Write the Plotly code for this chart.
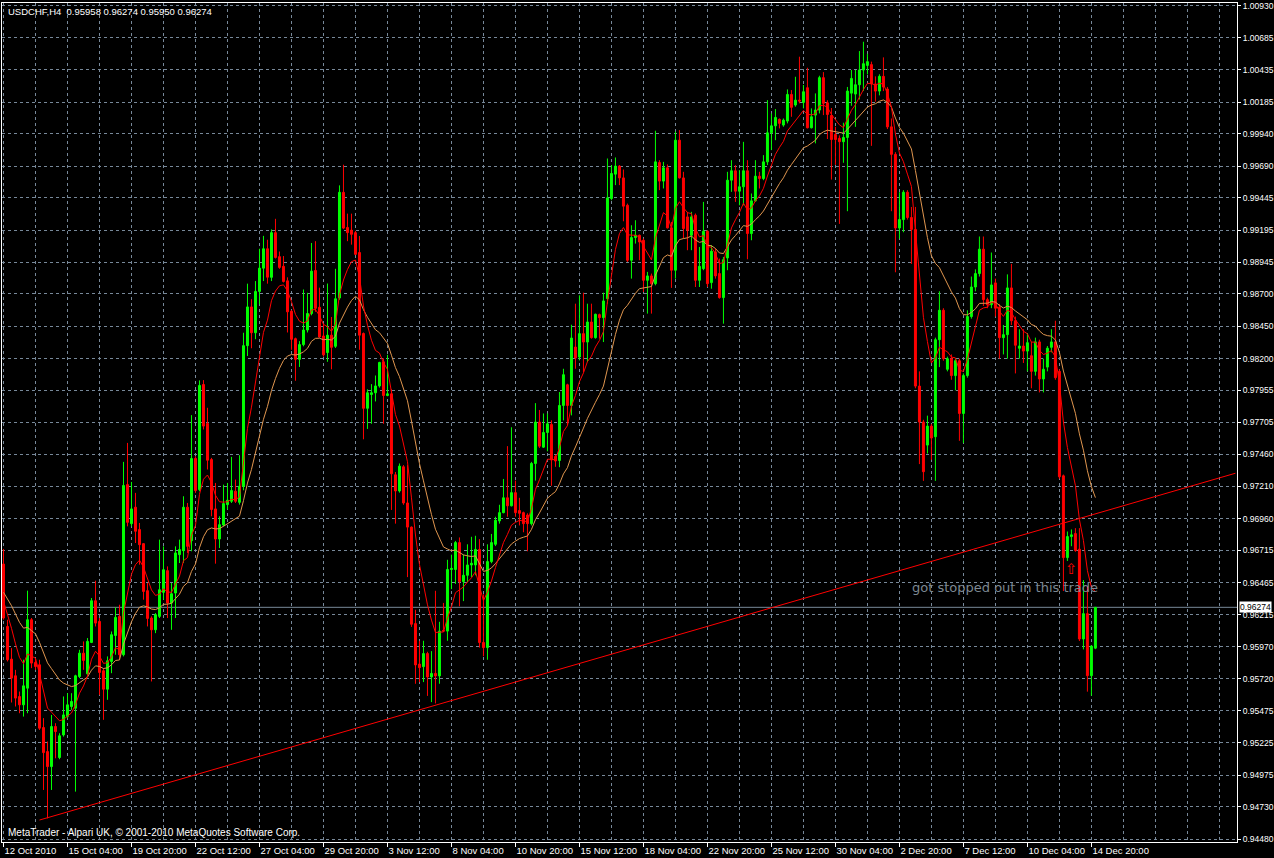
import numpy as np
import plotly.graph_objects as go

# ---------------- data (USDCHF H4) ----------------
opens = [
0.96609, 0.96126, 0.95873, 0.95744, 0.95583, 0.95519, 0.95648, 0.96178, 0.95847, 0.95829,
0.95343, 0.95157, 0.95041, 0.95351, 0.95111, 0.95286, 0.95428, 0.95506, 0.95493, 0.95738,
0.95919, 0.95759, 0.96002, 0.96325, 0.96165, 0.95783, 0.95640, 0.95855, 0.96056, 0.96204,
0.95907, 0.97224, 0.96922, 0.97049, 0.96876, 0.96767, 0.96403, 0.96191, 0.96100, 0.96204,
0.96390, 0.96558, 0.96307, 0.96385, 0.96682, 0.96713, 0.97049, 0.96790, 0.97426, 0.97186,
0.97999, 0.97697, 0.97418, 0.97036, 0.96803, 0.96912, 0.97069, 0.97095, 0.97173, 0.97087,
0.97211, 0.98300, 0.98600, 0.98400, 0.98720, 0.98900, 0.99050, 0.98829, 0.99175, 0.98989,
0.98914, 0.98802, 0.98567, 0.98354, 0.98194, 0.98308, 0.98421, 0.98549, 0.98882, 0.98597,
0.98375, 0.98247, 0.98381, 0.98295, 0.98669, 0.99487, 0.99215, 0.99194, 0.99175, 0.99021,
0.98394, 0.97815, 0.97922, 0.97935, 0.97988, 0.98175, 0.97914, 0.97927, 0.97300, 0.97175,
0.97362, 0.97082, 0.96895, 0.96148, 0.95834, 0.95815, 0.95916, 0.95735, 0.95762, 0.95743,
0.96095, 0.96090, 0.96567, 0.96567, 0.96775, 0.96474, 0.96522, 0.96602, 0.96602, 0.96722,
0.96002, 0.95962, 0.96628, 0.96762, 0.96943, 0.97007, 0.97122, 0.97060, 0.97162, 0.97023,
0.97007, 0.96988, 0.96922, 0.97388, 0.97708, 0.97514, 0.97628, 0.97690, 0.97442, 0.97411,
0.97837, 0.97997, 0.97837, 0.98289, 0.98212, 0.98393, 0.98328, 0.98483, 0.98362, 0.98540,
0.98517, 0.98664, 0.99439, 0.99628, 0.99690, 0.99599, 0.99387, 0.98961, 0.99137, 0.99155,
0.99116, 0.98806, 0.98840, 0.98780, 0.99718, 0.99574, 0.99677, 0.99212, 0.98884, 0.99891,
0.99599, 0.99297, 0.99155, 0.99310, 0.98806, 0.98896, 0.99186, 0.98788, 0.99026, 0.98858,
0.98672, 0.98979, 0.99581, 0.99654, 0.99496, 0.99530, 0.99654, 0.99168, 0.99421, 0.99612,
0.99594, 0.99723, 0.99948, 1.00002, 1.00052, 1.00008, 1.00039, 1.00245, 1.00163, 1.00201,
1.00183, 1.00297, 0.99987, 1.00085, 1.00124, 1.00375, 1.00180, 1.00082, 0.99935, 0.99905,
0.99879, 0.99912, 1.00255, 1.00248, 1.00320, 1.00434, 1.00470, 1.00476, 1.00326, 1.00271,
1.00385, 1.00287, 0.99994, 0.99781, 0.99211, 0.99276, 0.99488, 0.99292, 0.99200, 0.97987,
0.97709, 0.97530, 0.97677, 0.97595, 0.98346, 0.98574, 0.98117, 0.98199, 0.98068, 0.98183,
0.97775, 0.98068, 0.98525, 0.98754, 0.98858, 0.99047, 0.98656, 0.98617, 0.98786, 0.98597,
0.98362, 0.98385, 0.98747, 0.98493, 0.98280, 0.98297, 0.98258, 0.98222, 0.98101, 0.98329,
0.98042, 0.98134, 0.98287, 0.98329, 0.98101, 0.97292, 0.96659, 0.96822, 0.96845, 0.96724,
0.96029, 0.96225, 0.95745, 0.95958]

highs = [
0.96726, 0.96178, 0.95958, 0.95790, 0.95622, 0.95868, 0.96403, 0.96191, 0.95881, 0.95868,
0.95416, 0.95235, 0.95441, 0.95377, 0.95299, 0.95584, 0.95609, 0.95609, 0.95752, 0.95945,
0.96010, 0.96036, 0.96346, 0.96480, 0.96191, 0.95803, 0.95894, 0.96087, 0.96273, 0.96294,
0.97400, 0.97547, 0.97245, 0.97160, 0.96927, 0.96772, 0.96462, 0.96204, 0.96229, 0.96798,
0.96746, 0.96591, 0.96462, 0.96746, 0.96798, 0.97134, 0.97082, 0.97762, 0.97444, 0.98031,
0.98033, 0.97819, 0.97431, 0.97237, 0.96979, 0.97224, 0.97237, 0.97439, 0.97263, 0.97452,
0.98400, 0.98780, 0.98660, 0.98800, 0.99050, 0.99150, 0.99120, 0.99200, 0.99282, 0.99029,
0.98994, 0.98829, 0.98575, 0.98362, 0.98335, 0.98735, 0.98709, 0.99095, 0.99109, 0.98749,
0.98469, 0.98781, 0.98522, 0.98895, 0.99541, 0.99701, 0.99322, 0.99322, 0.99189, 0.99149,
0.98402, 0.97962, 0.98002, 0.98069, 0.98175, 0.98202, 0.98229, 0.97962, 0.97322, 0.97388,
0.97375, 0.97375, 0.96900, 0.96255, 0.96015, 0.96015, 0.95930, 0.95935, 0.96402, 0.96162,
0.96308, 0.96642, 0.96682, 0.96788, 0.96815, 0.96682, 0.96762, 0.96820, 0.96828, 0.96802,
0.96375, 0.96762, 0.96842, 0.96975, 0.97068, 0.97268, 0.97522, 0.97668, 0.97255, 0.97122,
0.97015, 0.97002, 0.97400, 0.97855, 0.97802, 0.97775, 0.97775, 0.97722, 0.97455, 0.97941,
0.98121, 0.98005, 0.98462, 0.98625, 0.98690, 0.98710, 0.98625, 0.98625, 0.98548, 0.98548,
0.98710, 0.99749, 0.99698, 0.99757, 0.99698, 0.99664, 0.99400, 0.99232, 0.99271, 0.99160,
0.99129, 0.98871, 0.98858, 0.99964, 0.99736, 0.99723, 0.99703, 0.99258, 0.99956, 0.99969,
0.99646, 0.99336, 0.99336, 0.99323, 0.99064, 0.99413, 0.99194, 0.99077, 0.99052, 0.98974,
0.98987, 0.99646, 0.99736, 0.99698, 0.99659, 0.99878, 0.99736, 0.99478, 0.99736, 0.99646,
0.99775, 1.00201, 1.00098, 1.00132, 1.00059, 1.00059, 1.00284, 1.00279, 1.00382, 1.00537,
1.00318, 1.00452, 1.00137, 1.00253, 1.00390, 1.00418, 1.00200, 1.00140, 0.99994, 0.99928,
1.00026, 1.00303, 1.00434, 1.00434, 1.00581, 1.00653, 1.00560, 1.00499, 1.00385, 1.00401,
1.00532, 1.00303, 1.00059, 0.99798, 0.99488, 0.99504, 0.99504, 0.99374, 0.99374, 0.98101,
0.97726, 0.97758, 0.97693, 0.98362, 0.98721, 0.98590, 0.98215, 0.98232, 0.98199, 0.98199,
0.98085, 0.98574, 0.98835, 0.98891, 0.99145, 0.99145, 0.98672, 0.99021, 0.98819, 0.98623,
0.98460, 0.98852, 0.98933, 0.98525, 0.98427, 0.98427, 0.98395, 0.98329, 0.98362, 0.98346,
0.98199, 0.98297, 0.98427, 0.98493, 0.98117, 0.97302, 0.96861, 0.96877, 0.96887, 0.96887,
0.96485, 0.96437, 0.95980, 0.96274]

lows = [
0.96178, 0.95855, 0.95537, 0.95506, 0.95454, 0.95428, 0.95454, 0.95803, 0.95790, 0.95325,
0.94860, 0.94640, 0.94860, 0.95105, 0.95098, 0.95273, 0.95416, 0.95480, 0.94847, 0.95726,
0.95790, 0.95752, 0.95997, 0.96126, 0.95596, 0.95403, 0.95558, 0.95764, 0.95907, 0.95868,
0.95894, 0.96901, 0.96901, 0.96772, 0.96604, 0.96333, 0.96126, 0.95700, 0.96074, 0.96191,
0.96333, 0.96191, 0.96100, 0.96191, 0.96617, 0.96617, 0.96695, 0.96708, 0.97160, 0.97173,
0.97651, 0.97341, 0.96979, 0.96612, 0.96733, 0.96901, 0.97031, 0.97082, 0.97082, 0.97069,
0.97180, 0.98220, 0.98280, 0.98350, 0.98620, 0.98800, 0.98780, 0.98800, 0.98975, 0.98895,
0.98789, 0.98402, 0.98268, 0.98028, 0.98135, 0.98295, 0.98402, 0.98535, 0.98562, 0.98362,
0.98215, 0.98175, 0.98117, 0.98282, 0.98655, 0.99202, 0.99109, 0.99082, 0.99002, 0.98268,
0.97575, 0.97655, 0.97695, 0.97868, 0.97975, 0.97695, 0.97908, 0.97028, 0.96922, 0.97162,
0.97068, 0.96508, 0.96122, 0.95682, 0.95695, 0.95695, 0.95588, 0.95540, 0.95530, 0.95682,
0.96082, 0.96015, 0.96415, 0.96455, 0.96282, 0.96322, 0.96468, 0.96508, 0.96522, 0.95962,
0.95895, 0.95868, 0.96615, 0.96748, 0.96922, 0.97002, 0.96975, 0.97055, 0.96975, 0.96908,
0.96855, 0.96708, 0.96908, 0.97255, 0.97508, 0.97508, 0.97482, 0.97215, 0.97362, 0.97359,
0.97721, 0.97682, 0.97760, 0.98121, 0.98186, 0.98096, 0.98173, 0.98354, 0.98354, 0.98354,
0.98328, 0.98625, 0.99426, 0.99543, 0.99543, 0.99263, 0.98948, 0.98819, 0.99090, 0.98961,
0.98716, 0.98548, 0.98548, 0.98767, 0.99504, 0.99517, 0.99207, 0.98747, 0.98819, 0.99594,
0.99129, 0.99039, 0.99039, 0.98754, 0.98754, 0.98884, 0.98754, 0.98741, 0.98819, 0.98664,
0.98470, 0.98884, 0.99491, 0.99413, 0.99387, 0.99387, 0.98969, 0.99116, 0.99413, 0.99517,
0.99581, 0.99698, 0.99814, 0.99891, 0.99982, 0.99995, 1.00021, 1.00072, 1.00150, 1.00176,
1.00137, 0.99982, 0.99982, 0.99866, 1.00098, 1.00085, 0.99900, 0.99586, 0.99700, 0.99243,
0.99716, 0.99341, 1.00157, 0.99994, 1.00206, 1.00271, 1.00400, 0.99847, 1.00189, 1.00238,
1.00271, 0.99977, 0.99341, 0.98868, 0.99129, 0.99178, 0.99276, 0.98933, 0.97970, 0.97383,
0.97253, 0.97465, 0.97416, 0.97253, 0.98134, 0.98183, 0.98101, 0.98036, 0.97954, 0.97563,
0.97546, 0.98052, 0.98509, 0.98721, 0.98835, 0.98607, 0.98590, 0.98590, 0.98525, 0.98199,
0.98232, 0.98199, 0.98460, 0.98085, 0.98199, 0.98166, 0.98101, 0.97970, 0.98068, 0.97938,
0.97938, 0.98101, 0.98248, 0.98036, 0.97269, 0.96400, 0.96633, 0.96747, 0.96704, 0.96013,
0.95948, 0.95621, 0.95589, 0.95950]

closes = [
0.96191, 0.95868, 0.95726, 0.95571, 0.95519, 0.95666, 0.96178, 0.95842, 0.95816, 0.95338,
0.95149, 0.95041, 0.95351, 0.95312, 0.95279, 0.95441, 0.95519, 0.95545, 0.95744, 0.95919,
0.95863, 0.96010, 0.96325, 0.96152, 0.95770, 0.95640, 0.95860, 0.96062, 0.96196, 0.95907,
0.97217, 0.96932, 0.97036, 0.96863, 0.96759, 0.96397, 0.96188, 0.96100, 0.96217, 0.96410,
0.96565, 0.96307, 0.96379, 0.96695, 0.96721, 0.97049, 0.96746, 0.97426, 0.97178, 0.97992,
0.97677, 0.97413, 0.97031, 0.96803, 0.96914, 0.97077, 0.97103, 0.97178, 0.97095, 0.97211,
0.98300, 0.98600, 0.98400, 0.98720, 0.98900, 0.99050, 0.98830, 0.99175, 0.98983, 0.98906,
0.98797, 0.98562, 0.98349, 0.98194, 0.98308, 0.98421, 0.98549, 0.98877, 0.98589, 0.98367,
0.98229, 0.98381, 0.98287, 0.98663, 0.99487, 0.99210, 0.99175, 0.99162, 0.99007, 0.98381,
0.97815, 0.97935, 0.97935, 0.97988, 0.98170, 0.97914, 0.97927, 0.97308, 0.97175, 0.97367,
0.97082, 0.96895, 0.96143, 0.95828, 0.95807, 0.95916, 0.95735, 0.95762, 0.95743, 0.96090,
0.96090, 0.96567, 0.96575, 0.96775, 0.96474, 0.96522, 0.96602, 0.96615, 0.96722, 0.96002,
0.95962, 0.96628, 0.96775, 0.96948, 0.97007, 0.97122, 0.97060, 0.97162, 0.97007, 0.97002,
0.96922, 0.96922, 0.97388, 0.97708, 0.97522, 0.97628, 0.97695, 0.97415, 0.97407, 0.97837,
0.98075, 0.97837, 0.98359, 0.98204, 0.98393, 0.98328, 0.98483, 0.98362, 0.98543, 0.98517,
0.98646, 0.99444, 0.99633, 0.99690, 0.99599, 0.99380, 0.98961, 0.99137, 0.99155, 0.99103,
0.98806, 0.98840, 0.98780, 0.99723, 0.99574, 0.99677, 0.99212, 0.98884, 0.99891, 0.99599,
0.99207, 0.99194, 0.99297, 0.98806, 0.98914, 0.99186, 0.98780, 0.99031, 0.98840, 0.98672,
0.98966, 0.99581, 0.99654, 0.99496, 0.99530, 0.99654, 0.99168, 0.99421, 0.99612, 0.99594,
0.99723, 0.99948, 1.00002, 1.00067, 1.00021, 1.00046, 1.00245, 1.00145, 1.00201, 1.00194,
1.00266, 0.99987, 1.00072, 1.00124, 1.00375, 1.00176, 1.00090, 0.99896, 0.99896, 0.99879,
0.99912, 1.00271, 1.00369, 1.00320, 1.00434, 1.00483, 1.00499, 1.00326, 1.00271, 1.00385,
1.00303, 0.99994, 0.99781, 0.99211, 0.99276, 0.99488, 0.99292, 0.99200, 0.97987, 0.97709,
0.97324, 0.97677, 0.97585, 0.98346, 0.98574, 0.98199, 0.98199, 0.98068, 0.98183, 0.97775,
0.98068, 0.98525, 0.98754, 0.98858, 0.99047, 0.98656, 0.98617, 0.98770, 0.98590, 0.98362,
0.98385, 0.98747, 0.98493, 0.98303, 0.98297, 0.98258, 0.98323, 0.98101, 0.98329, 0.98042,
0.98117, 0.98280, 0.98329, 0.98052, 0.97285, 0.96659, 0.96822, 0.96835, 0.96714, 0.96029,
0.96225, 0.95745, 0.95974, 0.96274]

# time-axis labels, one every 16 H4 bars starting at bar 0
time_labels = ["12 Oct 2010", "15 Oct 04:00", "19 Oct 20:00", "22 Oct 12:00", "27 Oct 04:00",
               "29 Oct 20:00", "3 Nov 12:00", "8 Nov 04:00", "10 Nov 20:00", "15 Nov 12:00",
               "18 Nov 04:00", "22 Nov 20:00", "25 Nov 12:00", "30 Nov 04:00", "2 Dec 20:00",
               "7 Dec 12:00", "10 Dec 04:00", "14 Dec 20:00"]
bars_per_label = 16

# price-axis labels
price_labels = ["1.00930", "1.00685", "1.00435", "1.00185", "0.99940", "0.99690", "0.99445",
                "0.99195", "0.98945", "0.98700", "0.98450", "0.98200", "0.97955", "0.97705",
                "0.97460", "0.97210", "0.96960", "0.96715", "0.96465", "0.96215", "0.95970",
                "0.95720", "0.95475", "0.95225", "0.94975", "0.94730", "0.94480"]

# moving averages (EMA periods, and their values at the first visible bar)
fast_period, fast_seed = 8, 0.9636
slow_period, slow_seed = 21, 0.9641

# hand-drawn support trendline (bar index, price)
trend_bars = [9, 308]
trend_prices = [0.94627, 0.97312]

# current bid and the text / arrow objects
symbol_title = "USDCHF,H4  0.95958 0.96274 0.95950 0.96274"
bid_price = 0.96274
note_text = "got stopped out in this trade"
note_bar, note_price = 226.6, 0.96430
arrow_bar, arrow_price = 267, 0.96571
copyright_text = "MetaTrader - Alpari UK, \u00a9 2001-2010 MetaQuotes Software Corp."

# ---------------- build figure ----------------
n = len(closes)
assert len(opens) == len(highs) == len(lows) == n
idx = np.arange(n)
o = np.array(opens); c = np.array(closes)
h = np.maximum.reduce([np.array(highs), o, c])
l = np.minimum.reduce([np.array(lows), o, c])


def ema(values, period, seed):
    a = 2.0 / (period + 1)
    out = []
    prev = seed
    for v in values:
        prev = prev + a * (v - prev)
        out.append(prev)
    return out


ema_fast = ema(closes, fast_period, fast_seed)
ema_slow = ema(closes, slow_period, slow_seed)

GRID = "#778899"
BULL = "#00ff00"
BEAR = "#ff0000"
FONT = "Liberation Sans"

fig = go.Figure()

fig.add_trace(go.Scatter(x=trend_bars, y=trend_prices, mode="lines",
                         line=dict(color="#ff0000", width=1), hoverinfo="skip"))

fig.add_trace(go.Candlestick(
    x=idx, open=o, high=h, low=l, close=c,
    increasing=dict(line=dict(color=BULL, width=1), fillcolor=BULL),
    decreasing=dict(line=dict(color=BEAR, width=1), fillcolor=BEAR),
    whiskerwidth=0, hoverinfo="skip"))

fig.add_trace(go.Scatter(x=idx, y=ema_slow, mode="lines",
                         line=dict(color="#e0964f", width=1), hoverinfo="skip"))
fig.add_trace(go.Scatter(x=idx, y=ema_fast, mode="lines",
                         line=dict(color="#ff0000", width=1), hoverinfo="skip"))

# bid line
fig.add_shape(type="line", xref="paper", x0=0, x1=1, yref="y", y0=bid_price, y1=bid_price,
              line=dict(color=GRID, width=1), layer="below")

ann = []
ann.append(dict(xref="paper", yref="paper", x=0.003, y=0.999, xanchor="left", yanchor="top",
                text=symbol_title, showarrow=False, font=dict(color="white", size=9.5, family=FONT)))
ann.append(dict(xref="paper", yref="paper", x=0.003, y=0.002, xanchor="left", yanchor="bottom",
                text=copyright_text, showarrow=False, font=dict(color="white", size=10, family=FONT)))
ann.append(dict(xref="x", yref="y", x=note_bar, y=note_price, xanchor="left", yanchor="middle",
                text=note_text, showarrow=False, font=dict(color="#7d8892", size=13, family="DejaVu Sans")))
ann.append(dict(xref="x", yref="y", x=arrow_bar, y=arrow_price, xanchor="center", yanchor="middle",
                text="\u21e7", showarrow=False, font=dict(color="#ff0000", size=15, family="DejaVu Sans")))
ann.append(dict(xref="paper", yref="y", x=1, y=bid_price, xanchor="left", yanchor="middle",
                xshift=2, text=f"{bid_price:.5f}", showarrow=False, bgcolor="white", borderpad=0,
                font=dict(color="black", size=8.5, family=FONT)))

label_bars = [i * bars_per_label for i in range(len(time_labels))]
minor_bars = list(range(8, 309, 16)) + [288, 304]

fig.update_layout(
    width=1274, height=858,
    paper_bgcolor="black", plot_bgcolor="black",
    margin=dict(l=2, r=37, t=3, b=16, autoexpand=False),
    showlegend=False,
    annotations=ann,
    xaxis=dict(
        range=[-0.375, 308.4], rangeslider=dict(visible=False),
        tickmode="array", tickvals=label_bars, ticktext=time_labels,
        ticks="outside", ticklen=4, tickcolor="white", tickwidth=1,
        ticklabelposition="outside right", tickangle=0, automargin=False,
        tickfont=dict(color="white", size=9.5, family=FONT),
        showgrid=True, gridcolor=GRID, griddash="3px,3px", gridwidth=1,
        minor=dict(tickvals=minor_bars, showgrid=True, gridcolor=GRID, griddash="3px,3px",
                   gridwidth=1, ticks=""),
        showline=True, linecolor="white", linewidth=1, mirror=True, zeroline=False,
        fixedrange=True),
    yaxis=dict(
        side="right", range=[0.94457, 1.00953], automargin=False,
        tickmode="array", tickvals=[float(p) for p in price_labels], ticktext=price_labels,
        ticks="outside", ticklen=3, tickcolor="white",
        tickfont=dict(color="white", size=8.5, family=FONT),
        showgrid=True, gridcolor=GRID, griddash="3px,3px", gridwidth=1,
        showline=True, linecolor="white", linewidth=1, mirror=True, zeroline=False,
        fixedrange=True),
)

fig.write_html("out.html", config={"displayModeBar": False},
               post_script="document.body.style.margin='0';document.body.style.background='black';")
